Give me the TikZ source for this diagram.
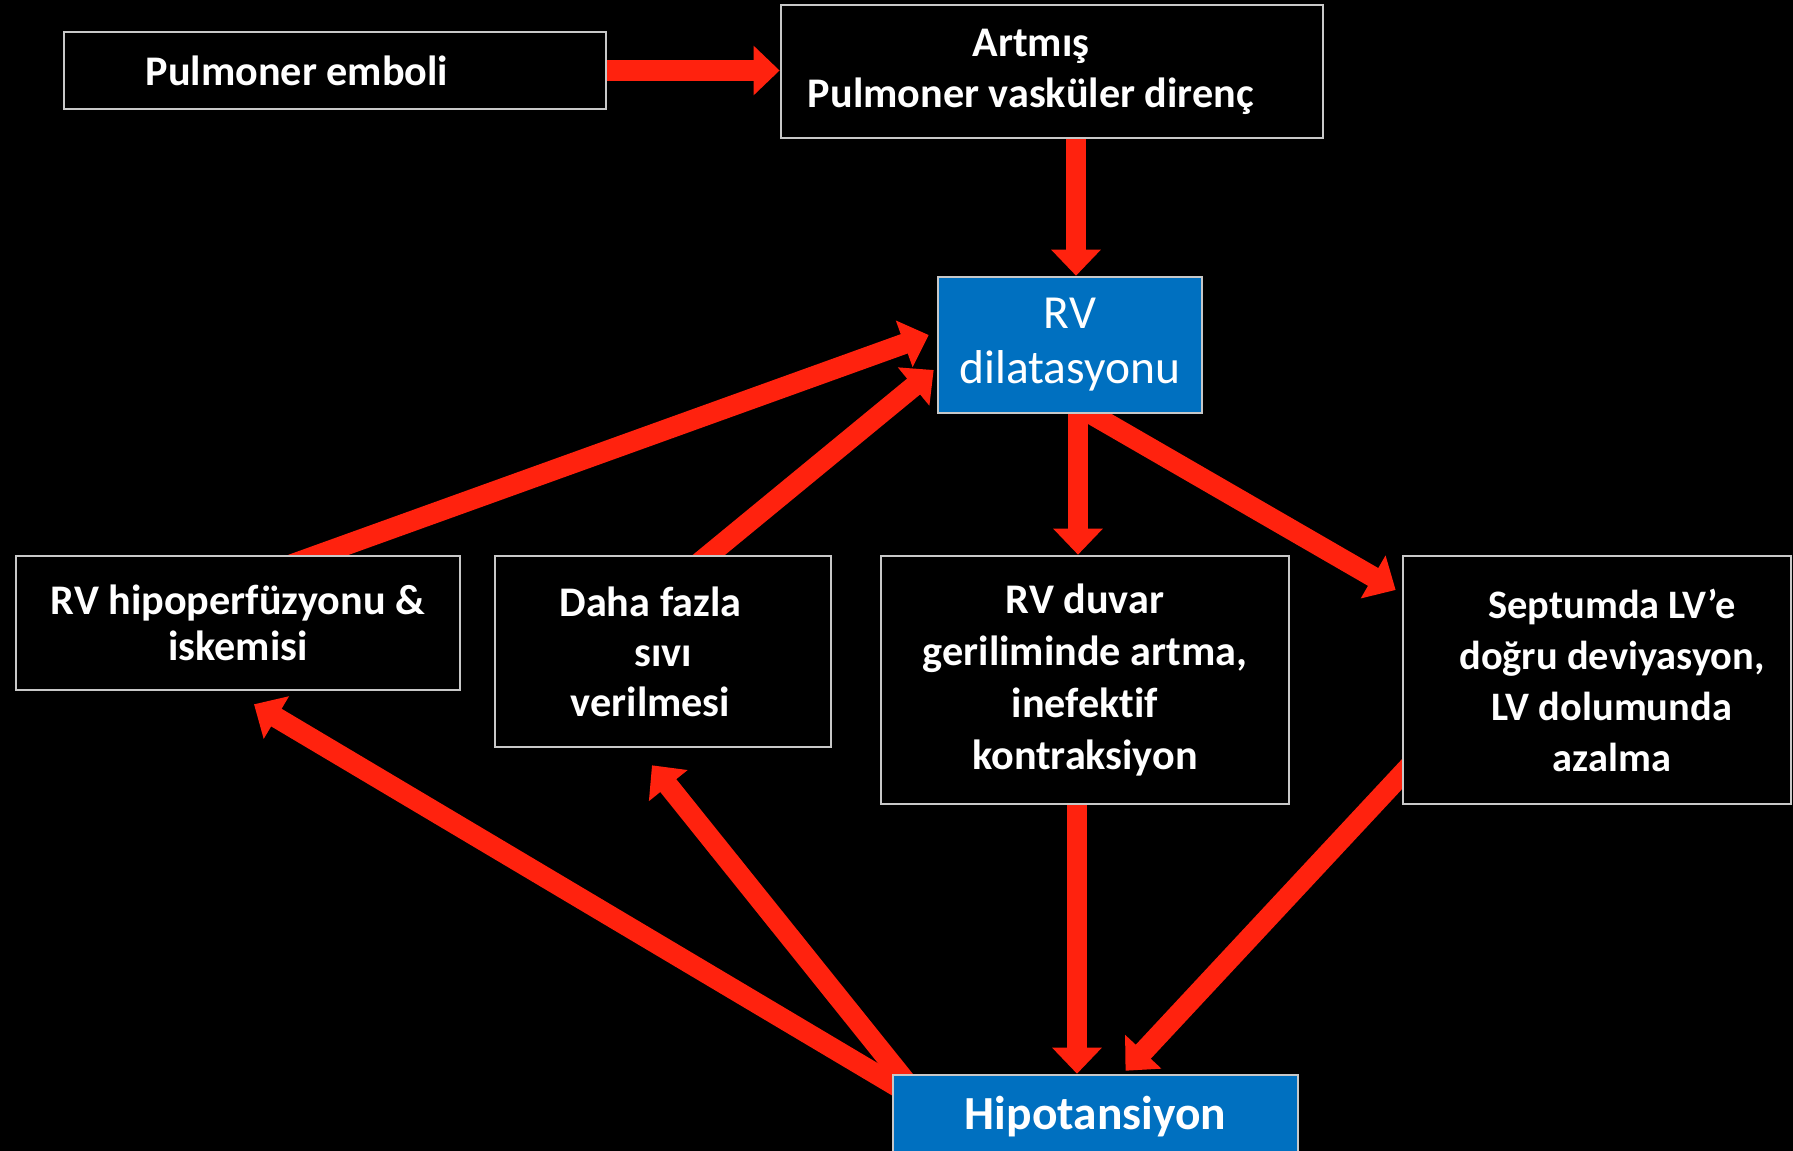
\documentclass[tikz,border=0pt]{standalone}
\usepackage{fontspec}
\setmainfont{Carlito}[Ligatures=NoCommon]
\usetikzlibrary{arrows.meta}
\definecolor{flowred}{RGB}{255,34,14}
\definecolor{boxblue}{RGB}{0,112,192}
\definecolor{edgegray}{RGB}{200,200,200}
\pgfdeclarelayer{back}
\pgfdeclarelayer{links}
\pgfsetlayers{back,links,main}

\begin{document}
\begin{tikzpicture}[
    x=0.01cm, y=-0.01cm,
    box/.style={rectangle, draw=edgegray, line width=0.7pt, fill=black, text=white, align=center, inner sep=0pt, font=\bfseries\fontsize{12}{14.5}\selectfont},
    bluebox/.style={box, fill=boxblue},
    arrow/.style={-{Triangle[width=4.8mm, length=2.6mm]}, draw=flowred, line width=2.05mm}
]
\useasboundingbox (0,0) rectangle (1793,1151);
\begin{pgfonlayer}{back}
\fill[black] (0,0) rectangle (1793,1151);
\end{pgfonlayer}

% Top row
\node[box, minimum width=5.42cm, minimum height=0.77cm] (emboli) at (335, 70.5) {Pulmoner emboli\hspace*{0.76cm}};
\node[box, minimum width=5.42cm, minimum height=1.33cm] (artmis) at (1052, 71.5) {Artmış\hspace*{0.42cm}\\Pulmoner vasküler direnç\hspace*{0.42cm}};

% Centre
\node[bluebox, minimum width=2.64cm, minimum height=1.36cm, font=\fontsize{13.5}{15.6}\selectfont] (rvdil) at (1070, 345) {RV\\dilatasyonu};

% Middle row
\node[box, minimum width=4.44cm, minimum height=1.34cm, font=\bfseries\fontsize{12}{13.1}\selectfont] (rvhipo) at (238, 623) {RV hipoperfüzyonu \&\\iskemisi};
\node[box, minimum width=3.36cm, minimum height=1.91cm, font=\bfseries\fontsize{12}{14.2}\selectfont] (sivi) at (663, 651.5) {Daha fazla\hspace*{0.25cm}\\sıvı\hspace*{0.25cm}\\verilmesi\hspace*{0.25cm}};
\node[box, minimum width=4.08cm, minimum height=2.48cm, font=\bfseries\fontsize{12}{14.8}\selectfont] (duvar) at (1085, 680) {RV duvar\\geriliminde artma,\\inefektif\\kontraksiyon};
\node[box, minimum width=3.88cm, minimum height=2.48cm, font=\bfseries\fontsize{11.5}{14.5}\selectfont] (septum) at (1597, 680) {\hspace*{0.30cm}Septumda LV’e\\\hspace*{0.30cm}doğru deviyasyon,\\\hspace*{0.30cm}LV dolumunda\\\hspace*{0.30cm}azalma};

% Bottom
\node[bluebox, minimum width=4.05cm, minimum height=0.84cm, font=\bfseries\fontsize{13.5}{16}\selectfont] (hipo) at (1095.5, 1117) {Hipotansiyon};

% Links
\begin{pgfonlayer}{links}
\draw[arrow] (emboli.east) -- (emboli.east -| artmis.west);
\draw[arrow] ([xshift=0.24cm]artmis.south) -- ([xshift=0.24cm]artmis.south |- rvdil.north);

\draw[arrow] ([xshift=0.53cm, yshift=-0.10cm]rvhipo.north) -- ([xshift=-0.08cm, yshift=0.10cm]rvdil.west);
\draw[arrow] ([xshift=0.23cm, yshift=-0.19cm]sivi.north) -- ([xshift=-0.03cm, yshift=-0.25cm]rvdil.west);

\draw[arrow] ([xshift=0.08cm]rvdil.south) -- ([xshift=0.08cm]rvdil.south |- duvar.north);
\draw[arrow] ([xshift=-0.13cm, yshift=0.20cm]rvdil.south) -- ([xshift=-0.06cm, yshift=0.90cm]septum.west);

\draw[arrow] ([xshift=-0.08cm]duvar.south) -- ([xshift=-0.08cm]duvar.south |- hipo.north);
\draw[arrow] ([xshift=0.20cm, yshift=-0.73cm]septum.west) -- ([xshift=0.30cm, yshift=0.03cm]hipo.north);

\draw[arrow] ([xshift=0.26cm, yshift=-0.25cm]hipo.north west) -- ([xshift=0.16cm, yshift=-0.13cm]rvhipo.south);
\draw[arrow] ([xshift=0.28cm, yshift=-0.25cm]hipo.north west) -- ([xshift=-0.11cm, yshift=-0.17cm]sivi.south);
\end{pgfonlayer}

\end{tikzpicture}
\end{document}
